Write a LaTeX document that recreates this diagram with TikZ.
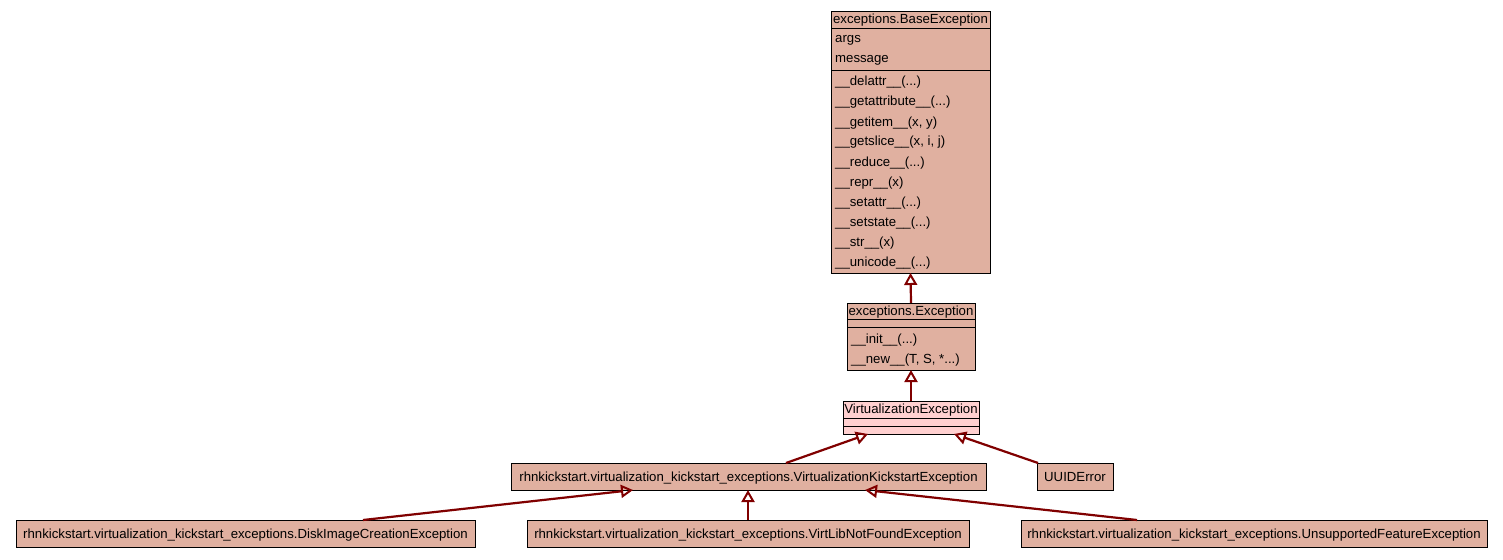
\documentclass[tikz,border=0pt]{standalone}
\usepackage{fontspec}
\setmainfont{Liberation Sans}
\usetikzlibrary{arrows.meta}
\definecolor{classfill}{HTML}{E0B0A0}
\definecolor{focusfill}{HTML}{FFD0D0}
\definecolor{edgecol}{HTML}{800000}
\tikzset{
  cls/.style={draw=black, line width=0.9pt, anchor=north west, inner sep=0pt, outer sep=0pt},
  clsfill/.style={cls, fill=classfill},
  label/.style={inner sep=0pt, font=\fontsize{13.2}{13.2}\selectfont, anchor=base},
  member/.style={label, anchor=base west},
  sep/.style={draw=black, line width=0.9pt},
  inherit/.style={draw=edgecol, line width=2.2pt, -{Triangle[open, length=12pt, width=13pt, line width=2pt]}},
}
\newcommand{\classbox}[6]{% name, x, y, w, h, style
  \node[#6, minimum width=#4pt, minimum height=#5pt] (#1) at (#2pt,-#3pt) {};}
\begin{document}
\begin{tikzpicture}[x=1pt, y=1pt]
\useasboundingbox (0,0) rectangle (1503,-559);

% exceptions.BaseException
\classbox{base}{831}{11}{159}{262}{clsfill}
\draw[sep] (base.north west) ++(0,-17) -- ++(159,0);
\draw[sep] (base.north west) ++(0,-59) -- ++(159,0);
\node[label] (basetitle) at (910.5,-24) {exceptions.BaseException};
\node[member] (a1) at (835,-43) {args};
\node[member] (a2) at (835,-63) {message};
\node[member] (bm0) at (835,-86)  {\_\_delattr\_\_(...)};
\node[member] (bm1) at (835,-106) {\_\_getattribute\_\_(...)};
\node[member] (bm2) at (835,-126) {\_\_getitem\_\_(x, y)};
\node[member] (bm3) at (835,-146) {\_\_getslice\_\_(x, i, j)};
\node[member] (bm4) at (835,-166) {\_\_reduce\_\_(...)};
\node[member] (bm5) at (835,-186) {\_\_repr\_\_(x)};
\node[member] (bm6) at (835,-206) {\_\_setattr\_\_(...)};
\node[member] (bm7) at (835,-226) {\_\_setstate\_\_(...)};
\node[member] (bm8) at (835,-246) {\_\_str\_\_(x)};
\node[member] (bm9) at (835,-266) {\_\_unicode\_\_(...)};

% exceptions.Exception
\classbox{exc}{847}{303}{128}{67}{clsfill}
\draw[sep] (exc.north west) ++(0,-16) -- ++(128,0);
\draw[sep] (exc.north west) ++(0,-24) -- ++(128,0);
\node[label] (exctitle) at (911,-315) {exceptions.Exception};
\node[member] (em0) at (851,-343) {\_\_init\_\_(...)};
\node[member] (em1) at (851,-363) {\_\_new\_\_(T, S, *...)};

% VirtualizationException
\classbox{virt}{843}{401}{136}{33}{cls, fill=focusfill}
\draw[sep] (virt.north west) ++(0,-17) -- ++(136,0);
\draw[sep] (virt.north west) ++(0,-25) -- ++(136,0);
\node[label] (virttitle) at (911,-413.5) {VirtualizationException};

% subclasses
\classbox{vke}{511}{463}{475}{27}{clsfill}
\node[label] at (748.5,-481) {rhnkickstart.virtualization\_kickstart\_exceptions.VirtualizationKickstartException};
\classbox{uuid}{1037}{463}{76}{27}{clsfill}
\node[label] at (1075,-481) {UUIDError};
\classbox{disk}{16}{520}{459}{27}{clsfill}
\node[label] at (245.5,-538) {rhnkickstart.virtualization\_kickstart\_exceptions.DiskImageCreationException};
\classbox{vlib}{527}{520}{442}{27}{clsfill}
\node[label] at (748,-538) {rhnkickstart.virtualization\_kickstart\_exceptions.VirtLibNotFoundException};
\classbox{unsup}{1021}{520}{466}{27}{clsfill}
\node[label] at (1254,-538) {rhnkickstart.virtualization\_kickstart\_exceptions.UnsupportedFeatureException};

% inheritance edges
\draw[inherit] (exc.north) -- (base.south);
\draw[inherit] (virt.north) -- (exc.south);
\draw[inherit] ([xshift=275pt]vke.north west) -- ([xshift=25pt]virt.south west);
\draw[inherit] ([xshift=1pt]uuid.north west) -- ([xshift=-25pt]virt.south east);
\draw[inherit] ([xshift=347pt]disk.north west) -- ([xshift=122pt]vke.south west);
\draw[inherit] (vlib.north) -- ([xshift=237pt]vke.south west);
\draw[inherit] ([xshift=116pt]unsup.north west) -- ([xshift=354pt]vke.south west);
\end{tikzpicture}
\end{document}
